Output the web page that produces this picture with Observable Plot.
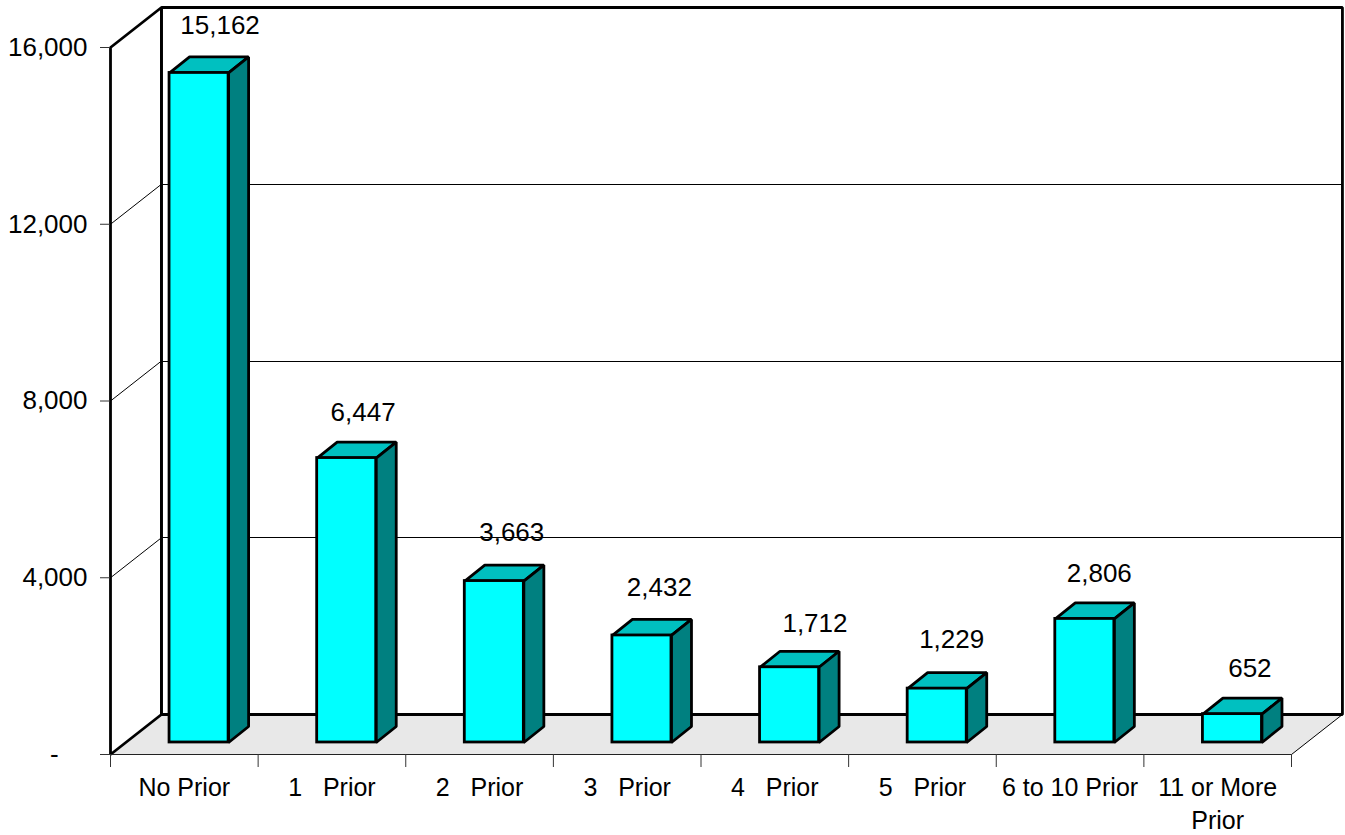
<!DOCTYPE html>
<html><head><meta charset="utf-8">
<script src="https://cdn.jsdelivr.net/npm/d3@7"></script>
<script src="https://cdn.jsdelivr.net/npm/@observablehq/plot@0.6"></script>
<style>html,body{margin:0;padding:0;background:#fff}svg{display:block}</style>
</head><body>
<div id="chart"></div>
<script>
const categories = ["No Prior","1\u00a0\u00a0\u00a0Prior","2\u00a0\u00a0\u00a0Prior","3\u00a0\u00a0\u00a0Prior","4\u00a0\u00a0\u00a0Prior","5\u00a0\u00a0\u00a0Prior","6 to 10 Prior","11 or More\nPrior"];
const values = [15162,6447,3663,2432,1712,1229,2806,652];
const yTicks = [0,4000,8000,12000,16000];
const gridValues = [4000,8000,12000];
// hand-placed data labels: small offsets from the default spot, in category units and value units
const labelShiftX = [0.024,-0.007,0,0,0.054,-0.02,-0.02,0];
const labelShiftY = [0,-45,23,0,-90,23,-45,-45];

// depth of the chart box and of each bar, in data units
const boxDX = 0.345, boxDY = 905;
const barDX = 0.1355, barDY = 362;
const barX0 = 0.4, barW = 0.4, barBase = 262;
const n = categories.length;

const bars = values.map((v,i)=>({i,v,name:categories[i],x1:i+barX0,x2:i+barX0+barW,y1:barBase+10,y2:barBase+v}));
const poly = (id,pts)=>pts.map(([x,y])=>({id,x,y}));
const tops = bars.flatMap(b=>poly(b.i,[[b.x1,b.y2],[b.x2,b.y2],[b.x2+barDX,b.y2+barDY],[b.x1+barDX,b.y2+barDY]]));
const sides = bars.flatMap(b=>poly(b.i,[[b.x2,b.y1],[b.x2,b.y2],[b.x2+barDX,b.y2+barDY],[b.x2+barDX,b.y1+barDY]]));
const floor = poly("floor",[[0,0],[n,0],[n+boxDX,boxDY],[boxDX,boxDY]]);
const backWall = poly("back",[[boxDX,boxDY],[boxDX,16000+boxDY],[n+boxDX,16000+boxDY],[n+boxDX,boxDY]]);
const leftWall = poly("left",[[0,0],[0,16000],[boxDX,16000+boxDY],[boxDX,boxDY]]);
const gridDiag = gridValues.flatMap(g=>poly(g,[[0,g],[boxDX,g+boxDY]]));
const floorRight = poly("fr",[[n,0],[n+boxDX,boxDY]]);

const closed = {x:"x",y:"y",z:"id",curve:"linear-closed",stroke:"#000",strokeWidth:2.8,strokeLinejoin:"miter"};
const fmt = d=> d===0 ? "-\u00a0\u00a0\u00a0\u00a0" : d3.format(",")(d);

const plot = Plot.plot({
  width:1345,height:835,
  marginTop:47,marginBottom:81,marginLeft:110,marginRight:54,
  style:{fontFamily:"'Liberation Sans',Arial,sans-serif",background:"#fff",color:"#000"},
  x:{domain:[0,n],axis:null},
  y:{domain:[0,16000],axis:null},
  marks:[
    Plot.line(floor,{x:"x",y:"y",z:"id",curve:"linear-closed",fill:"#e8e8e8",stroke:"none"}),
    Plot.line(gridDiag,{x:"x",y:"y",z:"id",stroke:"#000",strokeWidth:1}),
    Plot.ruleY(gridValues,{y:d=>d+boxDY,x1:boxDX,x2:n+boxDX,stroke:"#000",strokeWidth:1,shapeRendering:"crispEdges"}),
    Plot.line(floorRight,{x:"x",y:"y",z:"id",stroke:"#000",strokeWidth:1}),
    Plot.line(backWall,closed),
    Plot.line(leftWall,closed),
    Plot.ruleY([0],{x1:0,x2:n,stroke:"#222",strokeWidth:1}),
    Plot.axisY({ticks:yTicks,tickSize:10,tickPadding:13,tickFormat:fmt,label:null,fontSize:26,stroke:"#333",strokeWidth:1,strokeOpacity:1,anchor:"left"}),
    Plot.axisX({ticks:d3.range(n+1),tickSize:13,tickFormat:()=>"",label:null,stroke:"#333",strokeWidth:1,strokeOpacity:1,anchor:"bottom"}),
    Plot.text(bars,{x:d=>d.i+0.5,y:0,text:"name",dy:18,lineAnchor:"top",lineHeight:1.32,fontSize:25,fill:"#000"}),
    Plot.line(tops,{...closed,fill:"#00c0c0"}),
    Plot.line(sides,{...closed,fill:"#008080"}),
    Plot.rect(bars,{x1:"x1",x2:"x2",y1:"y1",y2:"y2",fill:"#00ffff",stroke:"#000",strokeWidth:2.8}),
    Plot.text(bars,{x:d=>d.x1+barW/2+0.118+labelShiftX[d.i],y:d=>d.y2+labelShiftY[d.i],text:d=>d3.format(",")(d.v),dy:-47.5,fontSize:26,fill:"#000"})
  ]
});
document.getElementById("chart").append(plot);
</script>
</body></html>
